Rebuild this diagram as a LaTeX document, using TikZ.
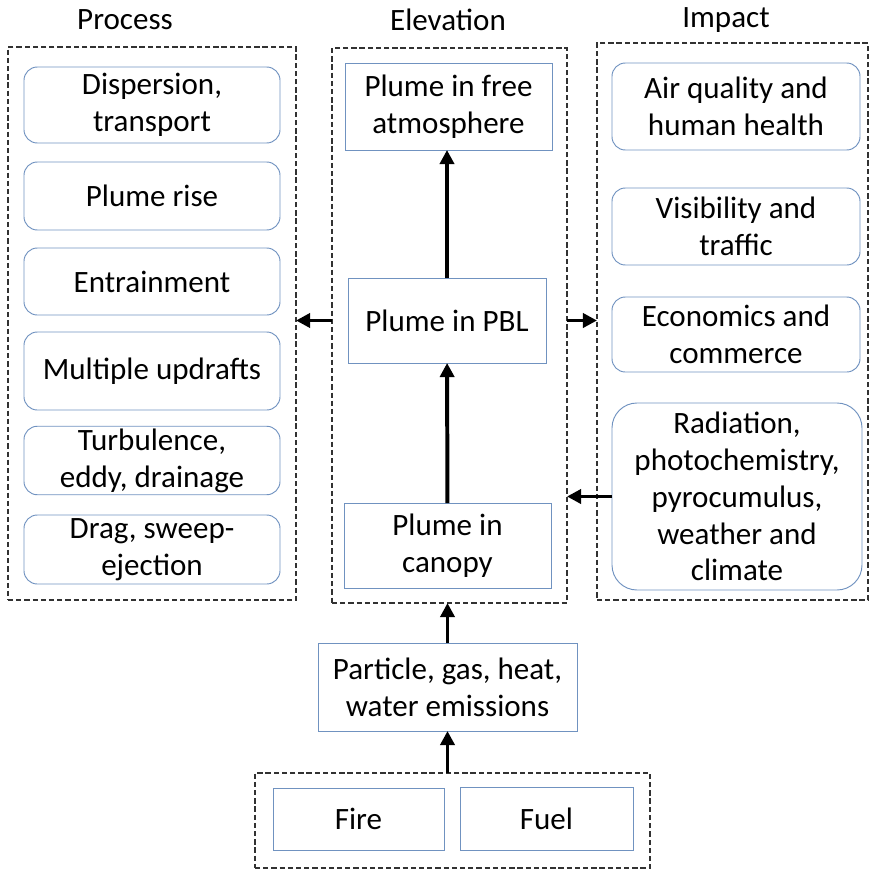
\documentclass[tikz,border=0pt]{standalone}
\usepackage{fontspec}
\setmainfont{Carlito}
\usepackage{tikz}
\usetikzlibrary{arrows.meta}
\definecolor{boxblue}{RGB}{112,146,192}
\definecolor{dashgray}{RGB}{50,50,50}

\begin{document}
\begin{tikzpicture}[x=0.03cm, y=-0.03cm, line width = 0.8pt,
		font=\fontsize{26.5}{31.5}\selectfont,
		every node/.style={outer sep=0pt, inner sep=2pt, align=center},
		rbox/.style={draw=boxblue, rounded corners=0.4cm, minimum width=7.68cm},
		sbox/.style={draw=boxblue},
		grp/.style={draw=dashgray, line width=1.3pt, dash pattern=on 4.5pt off 2.5pt},
		arr/.style={line width=3.4pt, -{Triangle[width=12pt,length=12pt]}}]
			
			\useasboundingbox (0,0) rectangle (870,870);
			
			% headers
			\node (hproc) at (125,20) {Process};
			\node (helev) at (448,20) {Elevation};
			\node (himp) at (726,20) {Impact};
			
			% groups
			\node[grp, minimum width=8.64cm, minimum height=16.59cm] (proc) at (152,323.5) {};
			\node[grp, minimum width=7.05cm, minimum height=16.65cm] (elev) at (449.5,325.5) {};
			\node[grp, minimum width=8.13cm, minimum height=16.71cm] (imp) at (732.5,321.5) {};
			\node[grp, minimum width=11.85cm, minimum height=2.85cm] (src) at (452.5,820.5) {};
			
			% process
			\node[rbox, minimum height=2.28cm] (disp) at (152,105) {Dispersion,\\transport};
			\node[rbox, minimum height=2.04cm] (rise) at (152,196) {Plume rise};
			\node[rbox, minimum height=2.01cm] (entr) at (152,281.5) {Entrainment};
			\node[rbox, minimum height=2.34cm] (updr) at (152,371) {Multiple updrafts};
			\node[rbox, minimum height=2.01cm] (turb) at (152,460.5) {Turbulence,\\eddy, drainage};
			\node[rbox, minimum height=2.07cm] (drag) at (152,549.5) {Drag, sweep-\\ejection};
			
			% elevation
			\node[sbox, minimum width=6.21cm, minimum height=2.61cm] (free) at (448.5,106.5) {Plume in free\\atmosphere};
			\node[sbox, minimum width=5.94cm, minimum height=2.55cm] (pbl) at (447,320.5) {Plume in PBL};
			\node[sbox, minimum width=6.21cm, minimum height=2.55cm] (canopy) at (447.5,545.5) {Plume in\\canopy};
			
			% impact
			\node[rbox, minimum width=7.44cm, minimum height=2.61cm] (air) at (736,106.5) {Air quality and\\human health};
			\node[rbox, minimum width=7.44cm, minimum height=2.31cm] (vis) at (736,226.5) {Visibility and\\traffic};
			\node[rbox, minimum width=7.44cm, minimum height=2.25cm] (econ) at (736,334.5) {Economics and\\commerce};
			\node[rbox, rounded corners=0.75cm, minimum width=7.5cm, minimum height=5.61cm] (rad) at (737,496.5) {Radiation,\\photochemistry,\\pyrocumulus,\\weather and\\climate};
			
			% sources
			\node[sbox, minimum width=7.77cm, minimum height=2.64cm] (emis) at (447.5,687) {Particle, gas, heat,\\water emissions};
			\node[sbox, minimum width=5.13cm, minimum height=1.86cm] (fire) at (358.5,819) {Fire};
			\node[sbox, minimum width=5.19cm, minimum height=1.89cm] (fuel) at (546.5,818.5) {Fuel};
			
			\draw[arr] (pbl) -- (pbl |- free.south);
			\draw[arr] (canopy) -- (pbl);
			\draw[arr] (emis) -- (emis |- elev.south);
			\draw[arr] (emis |- src.north) -- (emis.south);
			\draw[arr] (elev.west |- pbl) -- (proc.east |- pbl);
			\draw[arr] (elev.east |- pbl) -- (imp.west |- pbl);
			\draw[arr] (rad.west) -- (elev.east |- rad.west);
			
	\end{tikzpicture}
\end{document}
